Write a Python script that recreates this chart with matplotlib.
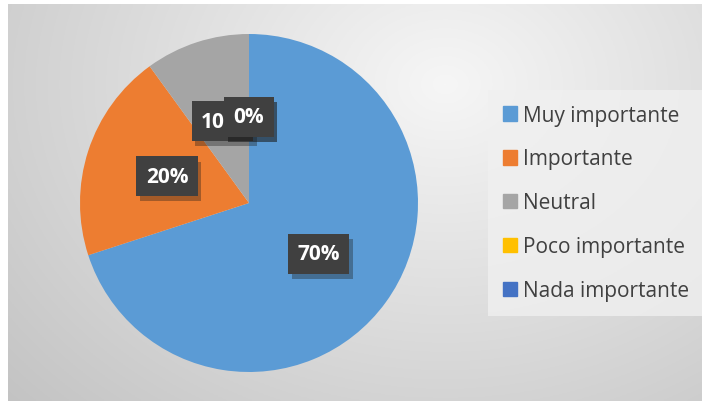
import numpy as np
import matplotlib
matplotlib.use("Agg")
from matplotlib import pyplot as plt
from matplotlib.patches import Rectangle

# categories and shares
categorias = ["Muy importante", "Importante", "Neutral", "Poco importante", "Nada importante"]
valores = [70, 20, 10, 0, 0]
etiquetas = ["70%", "20%", "10%", "0%", "0%"]
colores = ["#5b9bd5", "#ed7d31", "#a5a5a5", "#ffc000", "#4472c4"]

plt.rcParams['font.family'] = ['Open Sans', 'DejaVu Sans']

fig = plt.figure(figsize=(7.02, 4.02), dpi=100)
fig.patch.set_facecolor("white")

# background with radial gradient
bg = fig.add_axes([8/702, 0, 694/702, 397/402])
yy, xx = np.mgrid[0:200, 0:350]
cx, cy = 220, 40
d = np.sqrt(((xx - cx)/330.0)**2 + ((yy - cy)/260.0)**2)
g = np.clip(0.965 - 0.22*d, 0.74, 0.97)
bg.imshow(np.dstack([g, g, g]), aspect="auto", extent=[0, 1, 0, 1], origin="upper")
bg.set_axis_off()

ax = fig.add_axes([80/702, 29/402, 338/702, 338/402])
ax.set_axis_off()
wedges, _ = ax.pie(valores, colors=colores, startangle=90, counterclock=False,
                   wedgeprops=dict(linewidth=0))
ax.set_xlim(-1, 1)
ax.set_ylim(-1, 1)
ax.set_aspect("equal")

# data labels at pct distance
tot = float(sum(valores))
ang = 90.0
for v, lab in zip(valores, etiquetas):
    mid = np.deg2rad(ang - 360*v/tot/2)
    ang -= 360*v/tot
    x, y = 0.51*np.cos(mid), 0.51*np.sin(mid)
    ax.text(x + 0.022, y - 0.03, lab, ha="center", va="center", fontsize=15,
            fontweight="bold", color="none",
            bbox=dict(boxstyle="square,pad=0.45", facecolor="#1a1a1a",
                      edgecolor="none", alpha=0.35))
    ax.text(x, y, lab, ha="center", va="center", fontsize=15, fontweight="bold",
            color="white",
            bbox=dict(boxstyle="square,pad=0.45", facecolor="#404040",
                      edgecolor="none"))

handles = [Rectangle((0, 0), 1, 1, color=c) for c in colores]
leg = fig.legend(handles, categorias, loc="upper left",
                 bbox_to_anchor=(488/702, 1 - 91/402), fontsize=15,
                 frameon=True, handlelength=0.7, handleheight=0.7,
                 handletextpad=0.3, labelspacing=1.1, borderpad=0.7,
                 borderaxespad=0, labelcolor="#404040", fancybox=False)
leg.get_frame().set_facecolor("#f0f0f0")
leg.get_frame().set_edgecolor("none")

fig.savefig("out.png", dpi=100)
